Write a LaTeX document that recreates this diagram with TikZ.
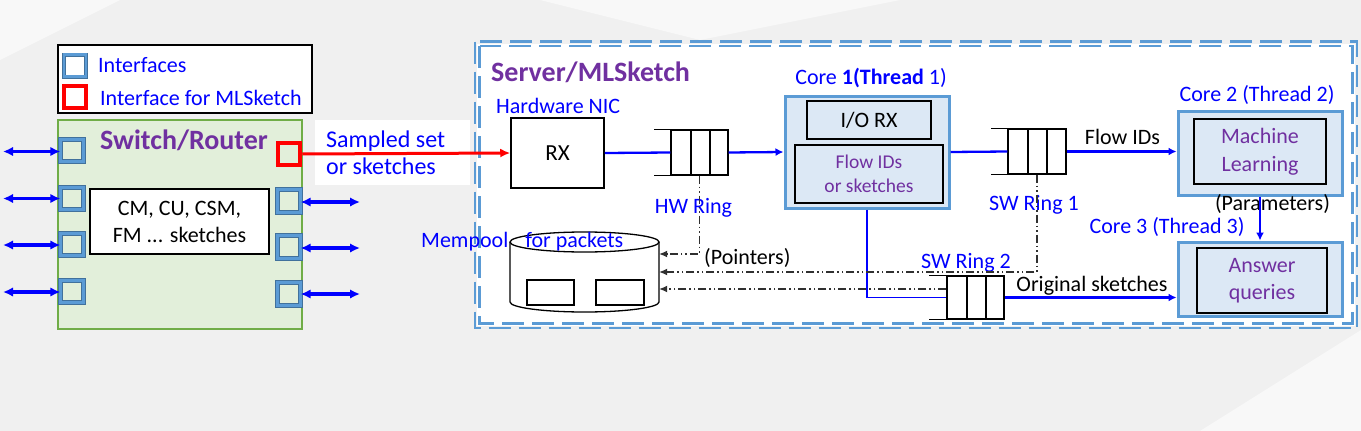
\documentclass[tikz,border=0pt]{standalone}
\usepackage{fontspec}
\setmainfont{Carlito}
\usetikzlibrary{arrows.meta}
\definecolor{bgc}{HTML}{F0F0F0}
\definecolor{bgl}{HTML}{F8F8F8}
\definecolor{txtblue}{HTML}{0000FF}
\definecolor{purp}{HTML}{7030A0}
\definecolor{boxblue}{HTML}{5B9BD5}
\definecolor{boxdark}{HTML}{41719C}
\definecolor{corefill}{HTML}{DCE8F5}
\definecolor{swfill}{HTML}{E2EFDA}
\definecolor{swedge}{HTML}{70AD47}
\definecolor{ddc}{HTML}{303030}
\tikzset{
  f22/.style={font=\fontsize{22}{27}\selectfont},
  btext/.style={f22, text=txtblue, inner sep=0},
  ktext/.style={f22, text=black, inner sep=0},
  ptitle/.style={font=\fontsize{28}{32}\selectfont\bfseries, text=purp, inner sep=0},
  plainbox/.style={draw=black, line width=1.5pt, inner sep=0, align=center},
  corebox/.style={draw=boxblue, fill=corefill, line width=3pt, inner sep=0},
  iface/.style={draw=boxdark, double=boxblue, double distance=3.4pt, line width=0.8pt, fill=swfill, minimum width=22.5, minimum height=22.5, inner sep=0},
  ringbox/.style={draw=black, line width=1.3pt, inner sep=0},
  bluearrow/.style={draw=txtblue, line width=2.3pt, -{Latex[length=8pt,width=8pt]}},
  dblarrow/.style={draw=txtblue, line width=3.2pt, {Latex[length=10pt,width=9.5pt]}-{Latex[length=10pt,width=9.5pt]}},
  blueline/.style={draw=txtblue, line width=2.3pt},
  ddline/.style={draw=ddc, line width=1.2pt, dash pattern=on 8pt off 3pt on 1.5pt off 3pt on 1.5pt off 3pt, -{Latex[length=8pt,width=7pt]}},
  srvborder/.style={draw=boxblue, line width=2.2pt, dash pattern=on 22pt off 8pt},
}
\begin{document}
\begin{tikzpicture}[x=1pt,y=-1pt]
\fill[bgc] (0,0) rectangle (1361,431);
\useasboundingbox (0,0) rectangle (1361,431);
% faint background facets
\fill[bgl] (0,0) -- (120,0) -- (0,60) -- cycle;
\fill[bgl] (540,0) -- (900,0) -- (700,40) -- cycle;
\fill[bgl] (1200,431) -- (1361,330) -- (1361,431) -- cycle;

% ---------------- legend ----------------
\node[draw=black, fill=white, line width=1.3pt, minimum width=254, minimum height=68, inner sep=0] (legend) at (185,79) {};
\node[draw=boxdark, double=boxblue, double distance=2.6pt, line width=0.7pt, fill=white, minimum width=22, minimum height=22, inner sep=0] (legi) at (75,65.5) {};
\node[draw=red, fill=white, line width=4.5pt, minimum width=22, minimum height=22, inner sep=0] (legr) at (75,97) {};
\node[btext, anchor=west] (legit) at (98,65) {Interfaces};
\node[btext, anchor=west] (legrt) at (100,98) {Interface for MLSketch};

% ---------------- switch ----------------
\node[draw=swedge, fill=swfill, line width=1.5pt, minimum width=244, minimum height=209, inner sep=0] (switch) at (180,224.5) {};
\node[ptitle] (swtitle) at (184,140) {Switch/Router};
\node[plainbox, fill=white, minimum width=179, minimum height=65, f22] (sk) at (179.5,221.5) {CM, CU, CSM,\\FM ... sketches};

\node[iface] (l1) at (72,150.5) {};
\node[iface] (l2) at (72,198.5) {};
\node[iface] (l3) at (72,244.5) {};
\node[iface] (l4) at (72,291.5) {};
\node[draw=red, fill=swfill, line width=4.5pt, minimum width=22, minimum height=22, inner sep=0] (r1) at (289,154) {};
\node[iface] (r2) at (289,201) {};
\node[iface] (r3) at (289,247) {};
\node[iface] (r4) at (289,294) {};

\coordinate (e1) at (3,151.5);
\coordinate (e2) at (3,198.5);
\coordinate (e3) at (3,245);
\coordinate (e4) at (3,292);
\coordinate (f2) at (360,202);
\coordinate (f3) at (360,248);
\coordinate (f4) at (360,294);
\draw[dblarrow] (e1) -- (l1.west |- e1);
\draw[dblarrow] (e2) -- (l2.west |- e2);
\draw[dblarrow] (e3) -- (l3.west |- e3);
\draw[dblarrow] (e4) -- (l4.west |- e4);
\draw[dblarrow] (r2.east |- f2) -- (f2);
\draw[dblarrow] (r3.east |- f3) -- (f3);
\draw[dblarrow] (r4.east |- f4) -- (f4);

% sampled set label
\fill[white] (315,120) rectangle (470,185);
\node[text=txtblue, font=\fontsize{24}{27}\selectfont, align=left, anchor=west, inner sep=0] (samp) at (326,153) {Sampled set\\or sketches};

% ---------------- server ----------------
\fill[white] (477,43.5) rectangle (1355,326);
\draw[srvborder] (475,41.5) rectangle (1357,328);
\draw[srvborder] (479.5,46) rectangle (1352.5,323.5);

\node[ptitle, anchor=west] (srvtitle) at (491,72) {Server/MLSketch};
\node[btext, anchor=west] (nic) at (496,106) {Hardware NIC};

\node[plainbox, fill=white, minimum width=93, minimum height=70, font=\fontsize{23}{27}\selectfont] (rx) at (557.5,153) {RX};
\draw[draw=red, line width=3pt, -{Latex[length=10pt,width=9pt]}] (r1.east) -- (rx.west);

% HW ring
\node[ringbox, minimum width=57, minimum height=45] (hw) at (699.5,152.5) {};
\draw[line width=1.3pt] (hw.north west) -- ++(-16,0);
\draw[line width=1.3pt] (hw.south west) -- ++(-16,0);
\draw[line width=1.3pt] (691,130) -- (691,175);
\draw[line width=2.2pt] (710,130) -- (710,175);
\node[btext] (hwl) at (693.5,208) {HW Ring};

% Core 1
\node[corebox, minimum width=164, minimum height=112] (core1) at (867,152) {};
\node[plainbox, fill=corefill, minimum width=124, minimum height=38, f22] (iorx) at (869,120) {I/O RX};
\node[plainbox, fill=corefill, minimum width=148, minimum height=58, text=purp, font=\fontsize{19.5}{24}\selectfont] (fid) at (869,174) {Flow IDs\\or sketches};
\node[btext] (c1l) at (871,78) {Core \textbf{1(Thread} 1)};

\draw[blueline] (rx.east) -- (hw.west);
\draw[bluearrow] (hw.east) -- (core1.west);

% SW ring 1
\node[ringbox, minimum width=58, minimum height=45] (sw1) at (1037,151.5) {};
\draw[line width=1.3pt] (sw1.north west) -- ++(-16,0);
\draw[line width=1.3pt] (sw1.south west) -- ++(-16,0);
\draw[line width=1.3pt] (1028,129) -- (1028,174);
\draw[line width=1.3pt] (1047,129) -- (1047,174);
\node[btext] (sw1l) at (1034,205) {SW Ring 1};

% SW ring 2
\node[ringbox, minimum width=57, minimum height=43] (sw2) at (975.5,297.5) {};
\draw[line width=1.3pt] (sw2.north west) -- ++(-17,0);
\draw[line width=1.3pt] (sw2.south west) -- ++(-17,0);
\draw[line width=1.3pt] (967,276) -- (967,319);
\draw[line width=1.3pt] (986,276) -- (986,319);
\node[btext] (sw2l) at (966,263) {SW Ring 2};

% Core 2
\node[corebox, minimum width=164, minimum height=84] (core2) at (1260,153) {};
\node[plainbox, fill=corefill, minimum width=132, minimum height=65, text=purp, font=\fontsize{22}{28}\selectfont] (ml) at (1260,151.5) {Machine\\Learning};
\node[btext] (c2l) at (1257,95) {Core 2 (Thread 2)};

% Core 3
\node[corebox, minimum width=164, minimum height=74] (core3) at (1260,279) {};
\node[plainbox, fill=corefill, minimum width=130, minimum height=65, text=purp, font=\fontsize{22}{27}\selectfont] (aq) at (1262,280.5) {Answer\\queries};
\node[btext] (c3l) at (1167,227) {Core 3 (Thread 3)};

\draw[blueline] (core1.east) -- (sw1.west);
\draw[bluearrow] (sw1.east) -- (core2.west |- sw1.east);
\node[ktext] (fidl) at (1122.5,137) {Flow IDs};

\node[ktext] (par) at (1272.5,204) {(Parameters)};
\draw[bluearrow] (core2.south) -- (core3.north);

\draw[bluearrow] (sw2.east) -- (core3.west |- sw2.east);
\node[ktext] (orig) at (1092,286) {Original sketches};

\draw[draw=txtblue, line width=1.3pt] (core1.south) |- (sw2.west);

% Mempool
\fill[white] (510,242) -- (510,302) arc[start angle=180, end angle=360, x radius=74.5pt, y radius=10pt] -- (659,242) -- cycle;
\draw[line width=1.3pt] (510,242) -- (510,302) arc[start angle=180, end angle=360, x radius=74.5pt, y radius=10pt] -- (659,242);
\draw[line width=1.3pt, fill=white] (584.5,242) ellipse [x radius=74.5pt, y radius=10pt];
\node[minimum width=149, minimum height=80, inner sep=0] (mem) at (584.5,272) {};
\node[plainbox, minimum width=47, minimum height=25] (b1) at (550.5,292.5) {};
\node[plainbox, minimum width=48, minimum height=25] (b2) at (620,292.5) {};
\node[btext, anchor=west] (meml) at (421,242) {Mempool\hspace{17pt}for packets};

\coordinate (y1) at (0,254);
\coordinate (y2) at (0,272);
\coordinate (y3) at (0,289);
\draw[ddline] (hw.south) |- (mem.east |- y1);
\draw[ddline] (sw1.south) |- (mem.east |- y2);
\draw[ddline] (sw2.west |- y3) -- (mem.east |- y3);
\node[ktext, anchor=west] (ptr) at (704,258) {(Pointers)};
\end{tikzpicture}
\end{document}
